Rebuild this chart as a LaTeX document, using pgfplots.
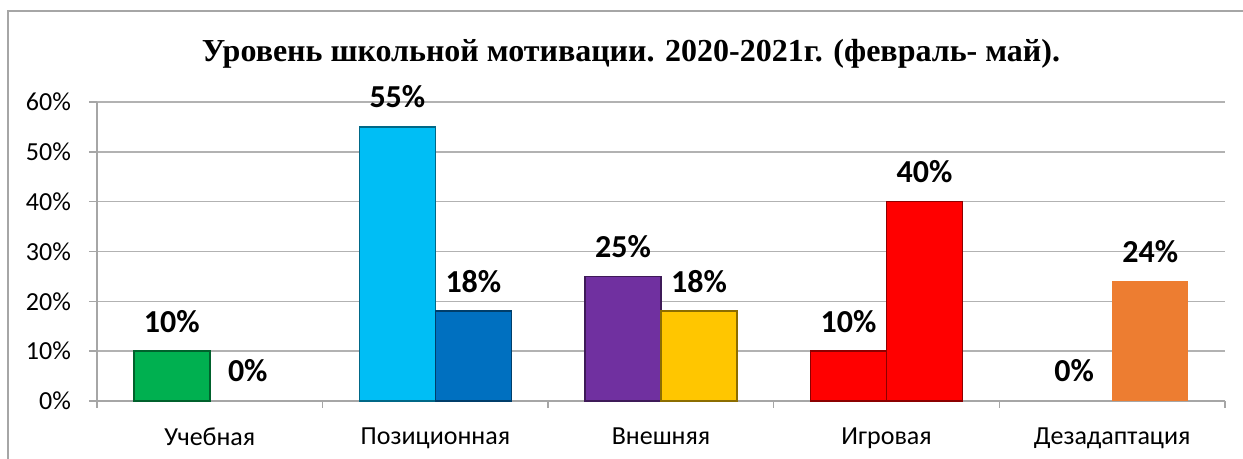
\documentclass[border=0pt]{standalone}
\usepackage{fontspec}
\setmainfont{Carlito}
\newfontfamily\titlefont{Liberation Serif}
\usepackage{pgfplots}
\pgfplotsset{compat=1.18}

\definecolor{cgreen}{RGB}{0,176,80}
\definecolor{clblue}{RGB}{0,190,245}
\definecolor{cdblue}{RGB}{0,112,192}
\definecolor{cpurple}{RGB}{112,48,160}
\definecolor{cyellow}{RGB}{255,198,0}
\definecolor{cred}{RGB}{255,0,0}
\definecolor{corange}{RGB}{237,125,49}

\pgfplotsset{
  % first series sits left of the category centre, second to the right
  left/.style={bar shift=-19pt, every node near coord/.append style={xshift=-19pt}},
  right/.style={bar shift=19pt, every node near coord/.append style={xshift=19pt}},
  mybar/.style={ybar, bar width=38pt, fill=#1, draw=#1!55!black, line width=0.8pt},
  nobar/.style={ybar, bar width=38pt, draw=none, fill=none},
}

\begin{document}
\begin{tikzpicture}
  % 1 px of the reference = 0.5pt, axis origin at px (97,401)
  \useasboundingbox (-48.5pt,-29pt) rectangle (573pt,200.5pt);
  \draw[gray!70, line width=0.7pt] (-44.5pt,-40pt) rectangle (590pt,195pt);
  \begin{axis}[
      at={(0pt,0pt)}, anchor=south west,
      scale only axis, width=564pt, height=149.5pt,
      xmin=-0.5, xmax=4.5, ymin=0, ymax=60,
      axis x line*=bottom, axis y line*=left,
      axis line style={gray!70, line width=0.7pt},
      xtick={0,1,2,3,4},
      xticklabels={Учебная, Позиционная, Внешняя, Игровая, Дезадаптация},
      major x tick style={draw=none},
      minor xtick={-0.5,0.5,1.5,2.5,3.5,4.5},
      minor x tick style={gray!70, line width=0.7pt},
      minor tick length=3.5pt,
      ytick={0,10,...,60},
      yticklabel={\pgfmathprintnumber{\tick}\%},
      major y tick style={gray!70, line width=0.7pt},
      major tick length=4pt,
      tick align=outside,
      ymajorgrids, grid style={gray!60, line width=0.7pt},
      /pgf/number format/assume math mode=true,
      tick label style={font=\fontsize{13pt}{15pt}\selectfont},
      xticklabel style={yshift=-6pt},
      yticklabel style={xshift=-5.5pt},
      nodes near coords={\pgfmathprintnumber{\pgfplotspointmeta}\%},
      every node near coord/.append style={font=\bfseries\fontsize{16pt}{18pt}\selectfont, anchor=center, yshift=15pt, black},
      clip=false,
    ]
    \addplot[mybar=cgreen, left] coordinates {(0,10)};
    \addplot[nobar, right] coordinates {(0,0)};
    \addplot[mybar=clblue, left] coordinates {(1,55)};
    \addplot[mybar=cdblue, right] coordinates {(1,18)};
    \addplot[mybar=cpurple, left] coordinates {(2,25)};
    \addplot[mybar=cyellow, right] coordinates {(2,18)};
    \addplot[mybar=cred, left] coordinates {(3,10)};
    \addplot[mybar=cred, right] coordinates {(3,40)};
    \addplot[nobar, left] coordinates {(4,0)};
    \addplot[ybar, bar width=38pt, right, fill=corange, draw=none] coordinates {(4,24)};
    \node[font=\titlefont\bfseries\fontsize{16pt}{19pt}\selectfont, anchor=base]
      at (rel axis cs:0.4734,1.134) {Уровень школьной мотивации. 2020-2021г. (февраль- май).};
  \end{axis}
\end{tikzpicture}
\end{document}
